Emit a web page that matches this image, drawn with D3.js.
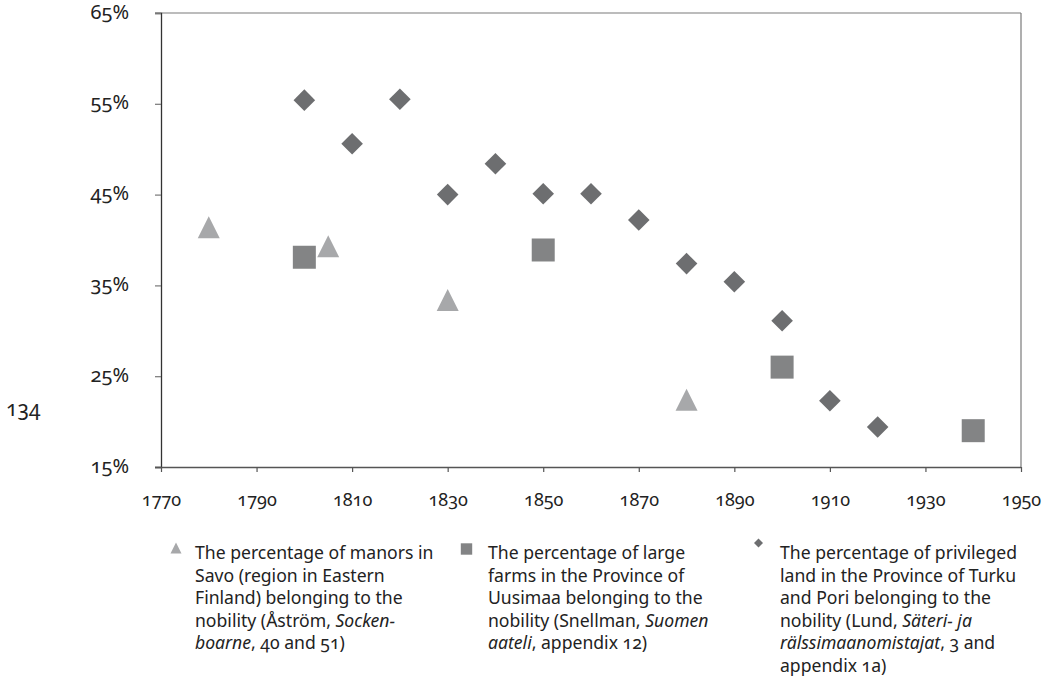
<!DOCTYPE html>
<html>
<head>
<meta charset="utf-8">
<script src="https://cdn.jsdelivr.net/npm/d3@7"></script>
<style>
  html, body { margin: 0; padding: 0; background: #fff; }
  svg { display: block; }
  text { font-family: "Noto Sans", "Open Sans", sans-serif; font-feature-settings: "onum" 1; font-variant-numeric: oldstyle-nums; fill: #222; }
  .axis text { font-size: 18px; fill: #222; }
  .yaxis text { font-size: 20px; }
</style>
</head>
<body>
<svg id="chart" width="1049" height="685"></svg>
<script>
// ---- data ----
const savoYears   = [1780, 1805, 1830, 1880];
const savoValues  = [41.4, 39.3, 33.4, 22.4];
const uusimaaYears  = [1800, 1850, 1900, 1940];
const uusimaaValues = [38.1, 38.9, 26.0, 19.0];
const turkuYears  = [1800, 1810, 1820, 1830, 1840, 1850, 1860, 1870, 1880, 1890, 1900, 1910, 1920];
const turkuValues = [55.4, 50.6, 55.5, 45.0, 48.4, 45.1, 45.1, 42.2, 37.4, 35.4, 31.1, 22.3, 19.4];
const xTicks = [1770, 1790, 1810, 1830, 1850, 1870, 1890, 1910, 1930, 1950];
const yTicks = [15, 25, 35, 45, 55, 65];
const legendLines = [
  [[["The percentage of manors in", false]], [["Savo (region in Eastern", false]], [["Finland) belonging to the", false]],
   [["nobility (Åström, ", false], ["Socken-", true]], [["boarne", true], [", 40 and 51)", false]]],
  [[["The percentage of large", false]], [["farms in the Province of", false]], [["Uusimaa belonging to the", false]],
   [["nobility (Snellman, ", false], ["Suomen", true]], [["aateli", true], [", appendix 12)", false]]],
  [[["The percentage of privileged", false]], [["land in the Province of Turku", false]], [["and Pori belonging to the", false]],
   [["nobility (Lund, ", false], ["Säteri- ja", true]], [["rälssimaanomistajat", true], [", 3 and", false]], [["appendix 1a)", false]]]
];
const pageNumber = "134";

// ---- layout ----
const svg = d3.select("#chart");
const L = 161, R = 1021, T = 13, B = 467;
const x = d3.scaleLinear().domain([1770, 1950]).range([L, R]);
const y = d3.scaleLinear().domain([15, 65]).range([B, T]);

const cTri = "#a7a8aa", cSq = "#838485", cDia = "#6d6e70";

// frame (top and right)
svg.append("line").attr("x1", 155).attr("x2", R).attr("y1", T).attr("y2", T).attr("stroke", "#7a7a7a").attr("stroke-width", 1.2);
svg.append("line").attr("x1", R).attr("x2", R).attr("y1", T).attr("y2", B).attr("stroke", "#7a7a7a").attr("stroke-width", 1.2);

// y axis
const yAxis = d3.axisLeft(y).tickValues(yTicks).tickSize(6).tickPadding(26).tickFormat(d => d + "%");
const gy = svg.append("g").attr("class", "axis yaxis").attr("transform", `translate(${L},0)`).call(yAxis);
gy.attr("font-size", null).attr("font-family", null);
gy.select(".domain").attr("stroke", "#333").attr("stroke-width", 1.3);
gy.selectAll(".tick line").attr("stroke", "#777").attr("stroke-width", 1.2);
gy.selectAll(".tick text").attr("fill", "#222").attr("dy", "0.25em");

// x axis
const xAxis = d3.axisBottom(x).tickValues(xTicks).tickSize(5).tickPadding(20).tickFormat(d3.format("d"));
const gx = svg.append("g").attr("class", "axis").attr("transform", `translate(0,${B})`).call(xAxis);
gx.attr("font-size", null).attr("font-family", null);
gx.select(".domain").attr("stroke", "#555").attr("stroke-width", 1.3).attr("d", `M${155},0.5H${R}`);
gx.selectAll(".tick line").attr("stroke", "#555").attr("stroke-width", 1.2);
gx.selectAll(".tick text").attr("fill", "#222").attr("y", 39).attr("dy", 0);

// markers
const triPath = (cx, cy, h) => `M${cx},${cy - h}L${cx + h},${cy + h}L${cx - h},${cy + h}Z`;
const sqPath = (cx, cy, h) => `M${cx - h},${cy - h}H${cx + h}V${cy + h}H${cx - h}Z`;
const diaPath = (cx, cy, h) => `M${cx},${cy - h}L${cx + h},${cy}L${cx},${cy + h}L${cx - h},${cy}Z`;

svg.append("g").selectAll("path").data(d3.zip(savoYears, savoValues)).join("path")
  .attr("d", d => triPath(x(d[0]), y(d[1]), 11)).attr("fill", cTri);
svg.append("g").selectAll("path").data(d3.zip(uusimaaYears, uusimaaValues)).join("path")
  .attr("d", d => sqPath(x(d[0]), y(d[1]), 11.5)).attr("fill", cSq);
svg.append("g").selectAll("path").data(d3.zip(turkuYears, turkuValues)).join("path")
  .attr("d", d => diaPath(x(d[0]), y(d[1]), 10.8)).attr("fill", cDia);

// legend
const legX = [195, 488, 780];
const legMarkers = [
  g => g.append("path").attr("d", triPath(176, 548, 5.5)).attr("fill", cTri),
  g => g.append("path").attr("d", sqPath(466.5, 549, 5.7)).attr("fill", cSq),
  g => g.append("path").attr("d", diaPath(758.5, 543, 4.5)).attr("fill", cDia)
];
const leg = svg.append("g");
legendLines.forEach((lines, i) => {
  legMarkers[i](leg);
  const t = leg.append("text").attr("font-size", 17.6).attr("fill", "#222");
  lines.forEach((parts, j) => {
    parts.forEach((p, k) => {
      const ts = t.append("tspan").text(p[0]).attr("font-style", p[1] ? "italic" : null);
      if (k === 0) ts.attr("x", legX[i]).attr("y", 559 + j * 22.6);
    });
  });
});

// page number
svg.append("text").attr("x", 6).attr("y", 416).attr("font-size", 21).attr("fill", "#222").text(pageNumber);
</script>
</body>
</html>
